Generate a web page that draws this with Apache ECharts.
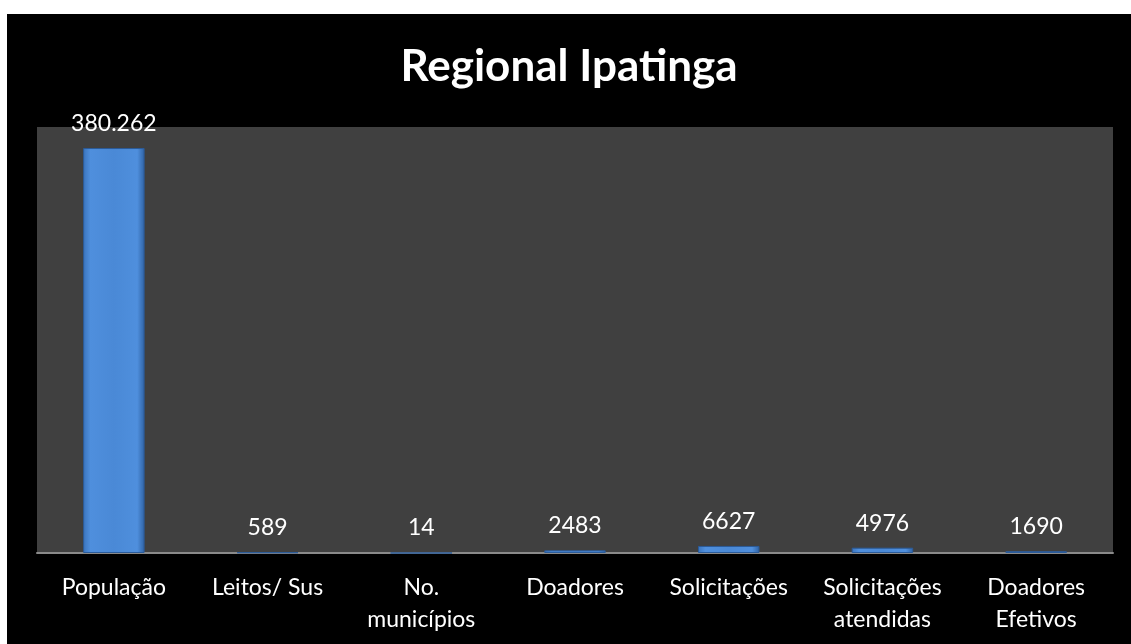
<!DOCTYPE html>
<html>
<head>
<meta charset="utf-8">
<script src="https://cdn.jsdelivr.net/npm/echarts@6/dist/echarts.min.js"></script>
<style>
  html, body { margin: 0; padding: 0; background: #ffffff; width: 1131px; height: 644px; overflow: hidden; }
  #chart { position: absolute; left: 7px; top: 14px; width: 1124px; height: 630px; background: #000000; }
</style>
</head>
<body>
<div id="chart"></div>
<script>
// Indicadores da Regional Ipatinga
const categories = ['População', 'Leitos/ Sus', 'No.\nmunicípios', 'Doadores', 'Solicitações', 'Solicitações\natendidas', 'Doadores\nEfetivos'];
const values = [380262, 589, 14, 2483, 6627, 4976, 1690];
const valueLabels = ['380.262', '589', '14', '2483', '6627', '4976', '1690'];

const chart = echarts.init(document.getElementById('chart'), null, { renderer: 'canvas' });

const barFill = new echarts.graphic.LinearGradient(0, 0, 1, 0, [
  { offset: 0, color: '#3a74bd' },
  { offset: 0.12, color: '#4f8fdd' },
  { offset: 0.5, color: '#4a89d6' },
  { offset: 0.88, color: '#4f8fdd' },
  { offset: 1, color: '#2f62a3' }
]);

chart.setOption({
  backgroundColor: '#000000',
  animation: false,
  title: {
    text: 'Regional Ipatinga',
    left: 'center',
    top: 26,
    padding: [5, 5, 5, 17],
    textStyle: { color: '#ffffff', fontSize: 44, fontWeight: 'bold', fontFamily: 'Lato' }
  },
  grid: {
    left: 30, right: 18, top: 113, bottom: 91,
    show: true, backgroundColor: '#404040', borderWidth: 0
  },
  xAxis: {
    type: 'category',
    data: categories,
    axisLine: { show: true, lineStyle: { color: '#8a8a8a', width: 2 } },
    axisTick: { show: false },
    axisLabel: {
      color: '#ffffff', fontSize: 23, fontFamily: 'Lato', lineHeight: 32, margin: 19, interval: 0
    }
  },
  yAxis: {
    type: 'value',
    min: 0, max: 400000,
    show: false,
    splitLine: { show: false }
  },
  series: [{
    type: 'bar',
    data: values,
    barWidth: '40%',
    itemStyle: { color: barFill, borderColor: '#2b5b99', borderWidth: 1 },
    label: {
      show: true,
      position: 'top',
      distance: 13,
      color: '#ffffff',
      fontSize: 23,
      fontFamily: 'Lato',
      formatter: p => valueLabels[p.dataIndex]
    }
  }]
});
</script>
</body>
</html>
